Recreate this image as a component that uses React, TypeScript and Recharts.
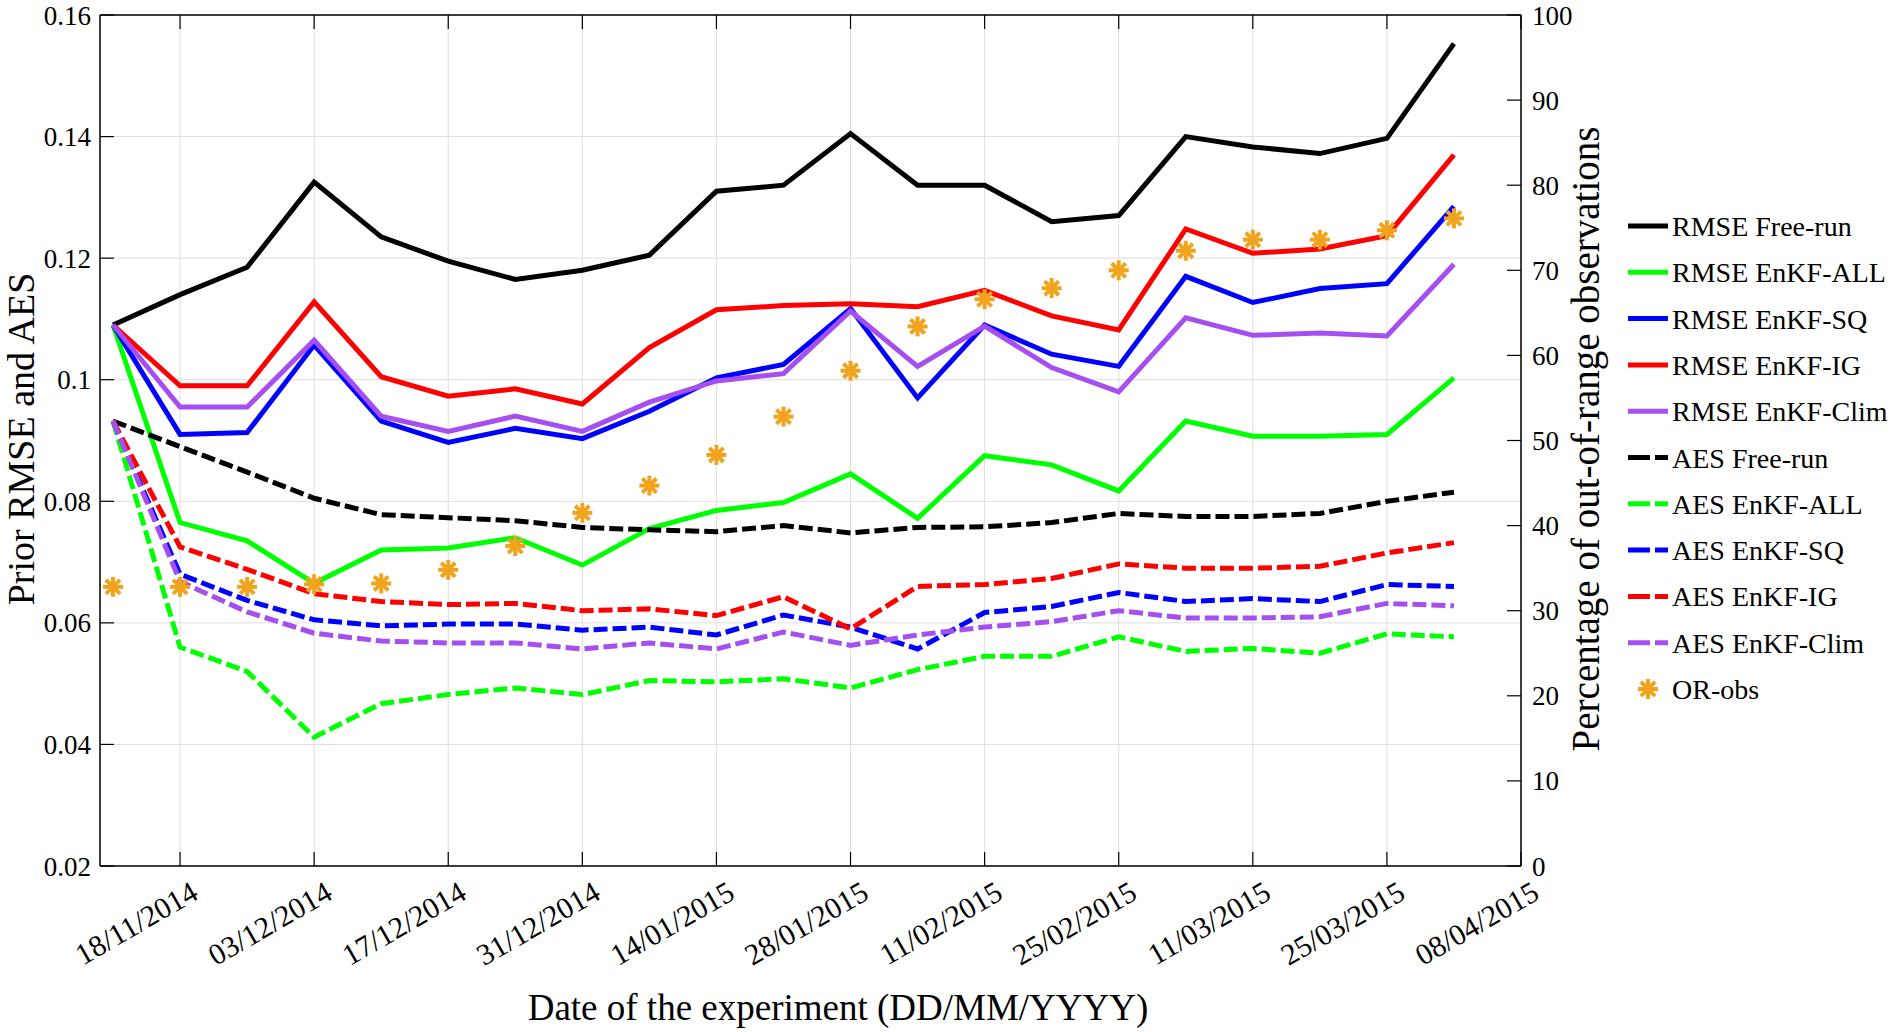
import React from 'react';
import { ComposedChart, Line, Scatter, XAxis, YAxis, CartesianGrid, Legend, Label } from 'recharts';

const weekIndex = [0, 1, 2, 3, 4, 5, 6, 7, 8, 9, 10, 11, 12, 13, 14, 15, 16, 17, 18, 19, 20];

const rmseFree = [0.109, 0.114, 0.1185, 0.1325, 0.1235, 0.1195, 0.1165, 0.118, 0.1205, 0.131, 0.132, 0.1405, 0.132, 0.132, 0.126, 0.127, 0.14, 0.1383, 0.1372, 0.1397, 0.1553];
const rmseAll = [0.109, 0.0765, 0.0735, 0.0665, 0.072, 0.0723, 0.074, 0.0695, 0.0755, 0.0785, 0.0798, 0.0845, 0.0772, 0.0875, 0.086, 0.0817, 0.0932, 0.0907, 0.0907, 0.091, 0.1003];
const rmseSQ = [0.109, 0.091, 0.0913, 0.1057, 0.0932, 0.0897, 0.092, 0.0903, 0.0948, 0.1003, 0.1025, 0.1117, 0.097, 0.109, 0.1042, 0.1022, 0.117, 0.1127, 0.115, 0.1158, 0.1285];
const rmseIG = [0.109, 0.099, 0.099, 0.1128, 0.1005, 0.0973, 0.0985, 0.096, 0.1053, 0.1115, 0.1122, 0.1125, 0.112, 0.1147, 0.1105, 0.1082, 0.1248, 0.1208, 0.1215, 0.1237, 0.137];
const rmseClim = [0.109, 0.0955, 0.0955, 0.1065, 0.094, 0.0915, 0.094, 0.0915, 0.0963, 0.0998, 0.101, 0.1113, 0.1022, 0.1088, 0.102, 0.098, 0.1102, 0.1073, 0.1077, 0.1072, 0.119];

const aesFree = [0.0932, 0.089, 0.0848, 0.0805, 0.0778, 0.0773, 0.0768, 0.0757, 0.0753, 0.075, 0.076, 0.0748, 0.0757, 0.0758, 0.0765, 0.078, 0.0775, 0.0775, 0.078, 0.08, 0.0815];
const aesAll = [0.0932, 0.056, 0.052, 0.0412, 0.0467, 0.0482, 0.0493, 0.0482, 0.0505, 0.0503, 0.0508, 0.0493, 0.0523, 0.0545, 0.0545, 0.0577, 0.0553, 0.0558, 0.055, 0.0582, 0.0577];
const aesSQ = [0.0932, 0.068, 0.0637, 0.0605, 0.0595, 0.0598, 0.0598, 0.0588, 0.0593, 0.058, 0.0613, 0.0593, 0.0557, 0.0617, 0.0627, 0.065, 0.0635, 0.064, 0.0635, 0.0663, 0.066];
const aesIG = [0.0932, 0.0725, 0.0688, 0.0648, 0.0635, 0.063, 0.0632, 0.062, 0.0623, 0.0612, 0.0643, 0.059, 0.066, 0.0663, 0.0673, 0.0697, 0.069, 0.069, 0.0693, 0.0715, 0.0732];
const aesClim = [0.0932, 0.0668, 0.0618, 0.0583, 0.057, 0.0567, 0.0567, 0.0557, 0.0567, 0.0557, 0.0585, 0.0563, 0.058, 0.0593, 0.0602, 0.062, 0.0608, 0.0608, 0.061, 0.0632, 0.0628];

const orObs = [32.8, 32.8, 32.8, 33.1, 33.2, 34.8, 37.6, 41.5, 44.7, 48.3, 52.8, 58.2, 63.4, 66.6, 67.9, 70.0, 72.3, 73.6, 73.6, 74.7, 76.1];

const xTickIndex = [1, 3, 5, 7, 9, 11, 13, 15, 17, 19, 21];
const xTickLabels = ['18/11/2014', '03/12/2014', '17/12/2014', '31/12/2014', '14/01/2015', '28/01/2015', '11/02/2015', '25/02/2015', '11/03/2015', '25/03/2015', '08/04/2015'];
const leftTicks = [0.02, 0.04, 0.06, 0.08, 0.1, 0.12, 0.14, 0.16];
const rightTicks = [0, 10, 20, 30, 40, 50, 60, 70, 80, 90, 100];

const BLACK = '#000000';
const GREEN = '#00ff00';
const BLUE = '#0000ff';
const RED = '#ff0000';
const PURPLE = '#a64ff0';
const ORANGE = '#f0a41e';

const series = [
  { key: 'rmseFree', name: 'RMSE Free-run', color: BLACK, dashed: false, values: rmseFree },
  { key: 'rmseAll', name: 'RMSE EnKF-ALL', color: GREEN, dashed: false, values: rmseAll },
  { key: 'rmseSQ', name: 'RMSE EnKF-SQ', color: BLUE, dashed: false, values: rmseSQ },
  { key: 'rmseIG', name: 'RMSE EnKF-IG', color: RED, dashed: false, values: rmseIG },
  { key: 'rmseClim', name: 'RMSE EnKF-Clim', color: PURPLE, dashed: false, values: rmseClim },
  { key: 'aesFree', name: 'AES Free-run', color: BLACK, dashed: true, values: aesFree },
  { key: 'aesAll', name: 'AES EnKF-ALL', color: GREEN, dashed: true, values: aesAll },
  { key: 'aesSQ', name: 'AES EnKF-SQ', color: BLUE, dashed: true, values: aesSQ },
  { key: 'aesIG', name: 'AES EnKF-IG', color: RED, dashed: true, values: aesIG },
  { key: 'aesClim', name: 'AES EnKF-Clim', color: PURPLE, dashed: true, values: aesClim },
];

const data = weekIndex.map((w, i) => {
  const row: Record<string, number> = { w };
  series.forEach((s) => {
    row[s.key] = s.values[i];
  });
  row.orObs = orObs[i];
  return row;
});

const FONT = '"Liberation Serif", "Times New Roman", serif';

const formatLeft = (v: number) => (Math.abs(v - 0.1) < 1e-9 ? '0.1' : v.toFixed(2));

const XTick = (props: any) => {
  const { x, y, payload } = props;
  const idx = xTickIndex.indexOf(payload.value);
  const label = idx >= 0 ? xTickLabels[idx] : '';
  const tx = x + 20;
  const ty = y + 24;
  return (
    <text x={tx} y={ty} transform={`rotate(-30, ${tx}, ${ty})`} textAnchor="end" fontFamily={FONT} fontSize={30} fill="#000">
      {label}
    </text>
  );
};

const EmptyTick = () => <g />;

const AsteriskGlyph = ({ cx, cy, r = 10, sw = 4 }: { cx: number; cy: number; r?: number; sw?: number }) => {
  const angles = [0, 45, 90, 135];
  return (
    <g>
      {angles.map((a) => {
        const rad = (a * Math.PI) / 180;
        const dx = Math.cos(rad) * r;
        const dy = Math.sin(rad) * r;
        return <line key={a} x1={cx - dx} y1={cy - dy} x2={cx + dx} y2={cy + dy} stroke={ORANGE} strokeWidth={sw} strokeLinecap="butt" />;
      })}
    </g>
  );
};

const AsteriskShape = (props: any) => {
  const { cx, cy } = props;
  if (cx == null || cy == null) return <g />;
  return <AsteriskGlyph cx={cx} cy={cy} />;
};

const LegendContent = () => {
  const rowH = 46.3;
  const y0 = 26;
  return (
    <svg width={290} height={520} style={{ overflow: 'visible' }}>
      {series.map((s, i) => {
        const cy = y0 + rowH * i;
        return (
          <g key={s.key}>
            <line x1={8} y1={cy} x2={48} y2={cy} stroke={s.color} strokeWidth={5} strokeDasharray={s.dashed ? '22 5' : undefined} />
            <text x={52} y={cy + 10} fontFamily={FONT} fontSize={28} fill="#000">
              {s.name}
            </text>
          </g>
        );
      })}
      <AsteriskGlyph cx={28} cy={y0 + rowH * 10} />
      <text x={52} y={y0 + rowH * 10 + 10} fontFamily={FONT} fontSize={28} fill="#000">
        OR-obs
      </text>
    </svg>
  );
};

export default function App() {
  return (
    <div style={{ position: 'absolute', left: 0, top: 0, width: 1900, height: 1032, background: '#fff' }}>
      <ComposedChart width={1900} height={1032} data={data} margin={{ top: 3, right: 0, bottom: 0, left: 0 }}>
        <CartesianGrid xAxisId="bottom" yAxisId="left" stroke="#dedede" strokeWidth={1} />
        <XAxis
          xAxisId="bottom"
          dataKey="w"
          type="number"
          domain={[-0.194, 21.0]}
          allowDataOverflow
          ticks={xTickIndex}
          interval={0}
          height={166}
          tickSize={-14}
          tickMargin={22}
          tick={<XTick />}
          axisLine={{ stroke: '#000', strokeWidth: 1.5 }}
          tickLine={{ stroke: '#000', strokeWidth: 1.2 }}
        >
          <Label
            content={() => (
              <text x={838} y={1020} textAnchor="middle" fontFamily={FONT} fontSize={37} fill="#000">
                Date of the experiment (DD/MM/YYYY)
              </text>
            )}
          />
        </XAxis>
        <XAxis
          xAxisId="top"
          orientation="top"
          dataKey="w"
          type="number"
          domain={[-0.194, 21.0]}
          allowDataOverflow
          ticks={xTickIndex}
          interval={0}
          height={12}
          tickSize={-14}
          tick={<EmptyTick />}
          axisLine={{ stroke: '#000', strokeWidth: 1.5 }}
          tickLine={{ stroke: '#000', strokeWidth: 1.2 }}
        />
        <YAxis
          yAxisId="left"
          orientation="left"
          type="number"
          domain={[0.02, 0.16]}
          ticks={leftTicks}
          interval={0}
          width={100}
          tickSize={-14}
          tickMargin={23}
          tickFormatter={formatLeft}
          tick={{ fontFamily: FONT, fontSize: 27, fill: '#000' }}
          axisLine={{ stroke: '#000', strokeWidth: 1.5 }}
          tickLine={{ stroke: '#000', strokeWidth: 1.2 }}
        >
          <Label
            content={() => (
              <text x={34} y={439} transform="rotate(-90, 34, 439)" textAnchor="middle" fontFamily={FONT} fontSize={38} fill="#000">
                Prior RMSE and AES
              </text>
            )}
          />
        </YAxis>
        <YAxis
          yAxisId="right"
          orientation="right"
          type="number"
          domain={[0, 100]}
          ticks={rightTicks}
          interval={0}
          width={379}
          tickSize={-14}
          tickMargin={25}
          tick={{ fontFamily: FONT, fontSize: 27, fill: '#000', textAnchor: 'start' }}
          axisLine={{ stroke: '#000', strokeWidth: 1.5 }}
          tickLine={{ stroke: '#000', strokeWidth: 1.2 }}
        >
          <Label
            content={() => (
              <text x={1599} y={439} transform="rotate(-90, 1599, 439)" textAnchor="middle" fontFamily={FONT} fontSize={39} fill="#000">
                Percentage of out-of-range observations
              </text>
            )}
          />
        </YAxis>
        <Legend
          layout="vertical"
          align="center"
          verticalAlign="middle"
          content={<LegendContent />}
          wrapperStyle={{ position: 'absolute', left: 1620, top: 200, width: 290, height: 520 }}
        />
        {series.map((s) => (
          <Line
            key={s.key}
            xAxisId="bottom"
            yAxisId="left"
            type="linear"
            dataKey={s.key}
            name={s.name}
            stroke={s.color}
            strokeWidth={5}
            strokeDasharray={s.dashed ? '14 5' : undefined}
            dot={false}
            activeDot={false}
            isAnimationActive={false}
          />
        ))}
        <Scatter
          xAxisId="bottom"
          yAxisId="right"
          dataKey="orObs"
          name="OR-obs"
          fill={ORANGE}
          shape={AsteriskShape}
          isAnimationActive={false}
        />
      </ComposedChart>
    </div>
  );
}
